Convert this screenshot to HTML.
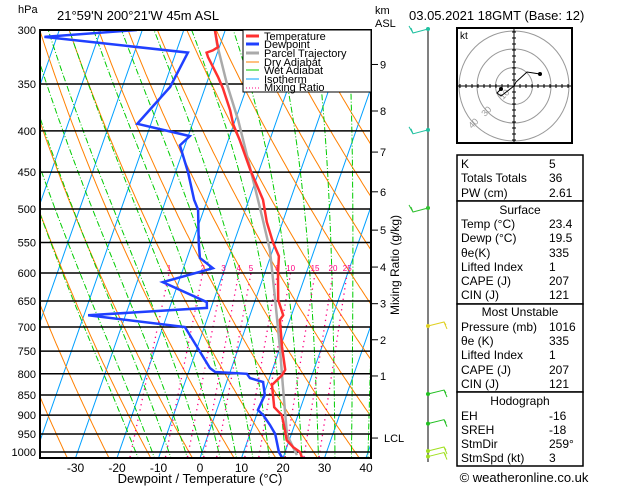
<!DOCTYPE html>
<html><head><meta charset="utf-8"><style>
body{margin:0;background:#fff;width:629px;height:486px;overflow:hidden}
svg{font-family:"Liberation Sans",sans-serif}
</style></head><body>
<svg id="c" width="629" height="486" viewBox="0 0 629 486">
<defs><clipPath id="pc"><rect x="40" y="30" width="331" height="428"/></clipPath></defs>
<g id="bg" clip-path="url(#pc)"></g>
<g id="series" clip-path="url(#pc)"></g>
<g id="axes"></g>
<rect x="40" y="30" width="331" height="428" fill="none" stroke="#000" stroke-width="2"/>
<text x="18" y="13" font-size="11">hPa</text>
<text x="57" y="20" font-size="13">21°59'N  200°21'W  45m  ASL</text>
<text x="375" y="14" font-size="11">km</text>
<text x="375" y="27" font-size="11">ASL</text>
<text x="409" y="20" font-size="13">03.05.2021  18GMT  (Base: 12)</text>
<text x="200" y="483" font-size="13" text-anchor="middle">Dewpoint / Temperature (°C)</text>
<text transform="translate(399,265) rotate(-90)" font-size="12" text-anchor="middle">Mixing Ratio (g/kg)</text>
<g>
<rect x="243" y="30" width="128" height="62" fill="#fff" stroke="#000" stroke-width="1"/>
<line x1="246" y1="36" x2="259" y2="36" stroke="#ff3030" stroke-width="3"/><text x="264" y="40" font-size="11">Temperature</text>
<line x1="246" y1="44" x2="259" y2="44" stroke="#2040ff" stroke-width="3"/><text x="264" y="48" font-size="11">Dewpoint</text>
<line x1="246" y1="53" x2="259" y2="53" stroke="#aaa" stroke-width="3"/><text x="264" y="57" font-size="11">Parcel Trajectory</text>
<line x1="246" y1="62" x2="259" y2="62" stroke="#ff8000" stroke-width="1"/><text x="264" y="66" font-size="11">Dry Adiabat</text>
<line x1="246" y1="70" x2="259" y2="70" stroke="#00cc00" stroke-width="1"/><text x="264" y="74" font-size="11">Wet Adiabat</text>
<line x1="246" y1="79" x2="259" y2="79" stroke="#00a0ff" stroke-width="1"/><text x="264" y="83" font-size="11">Isotherm</text>
<line x1="246" y1="88" x2="259" y2="88" stroke="#ff0080" stroke-width="1" stroke-dasharray="1,2"/><text x="264" y="91" font-size="11">Mixing Ratio</text>
</g>
<g id="winds"></g>
<g id="hodo"></g>
<g id="table"></g>
<text x="524" y="482" font-size="13" text-anchor="middle">© weatheronline.co.uk</text>
</svg>
<script>
const tempP=[1017,1000,986,967,939,900,880,826,803,791,741,686,677,648,600,572,550,519,487,447,411,393,377,354,343,324,320,318,315,311,300];
const tempT=[24.6,23.6,21.5,19.4,18.1,16.1,13.6,11.2,12.8,13.1,10.4,7.6,8.0,5.5,3.2,2.0,-0.6,-3.8,-6.6,-12.2,-17.2,-20.1,-22.1,-25.7,-27.8,-31.9,-32.6,-31.3,-30.3,-30.9,-32.5];
const dewP=[1017,1000,950,926,900,887,850,819,810,800,796,787,700,677,663,652,616,592,575,550,501,487,450,417,406,392,353,320,306,300];
const dewT=[19.8,18.5,16.1,14.1,11.6,9.9,10.3,8.8,5.3,4.2,-3.6,-5.2,-14.7,-39,-11,-11.5,-23.8,-12.9,-16.9,-18.5,-21.4,-23.2,-27,-31.2,-29.6,-43.3,-38.5,-37.1,-73,-51.3];
const parcelP=[1009,952,887,826,748,648,562,516,487,388,351,313,300];
const parcelT=[23.1,19.0,16.4,13.8,10.2,4.8,-0.7,-4.9,-7.8,-19.3,-24.9,-30.7,-32.5];
const pressureTicks=[300,350,400,450,500,550,600,650,700,750,800,850,900,950,1000];
const tempTicks=[-30,-20,-10,0,10,20,30,40];
const kmTicks=["9","8","7","6","5","4","3","2","1","LCL"];
const kmPressures=[331,378,425,476,531,590,655,726,805,961];
const mixRatios=[1,2,3,4,5,8,10,15,20,25];
const windP=[300,400,500,700,850,925,1000,1016];
const windColors=["#20c0a0","#20c0a0","#30c030","#e0d020","#20c020","#20c020","#a0e020","#a0e020"];

const NS="http://www.w3.org/2000/svg";
function yP(p){return 30+350.5*Math.log(p/300);}
function xT(T,p){return 200+4.15*T+0.35*(458-yP(p));}
function mk(tag,attrs,parent){const e=document.createElementNS(NS,tag);for(const k in attrs)e.setAttribute(k,attrs[k]);parent.appendChild(e);return e;}
const bg=document.getElementById('bg'),series=document.getElementById('series'),axes=document.getElementById('axes');
function pathFrom(ps,ts){return ps.map((p,i)=>(i?'L':'M')+xT(ts[i],p).toFixed(1)+','+yP(p).toFixed(1)).join('');}
const plevels=[];for(let p=1030;p>=290;p-=5)plevels.push(p);
// isotherms
for(let T=-130;T<=50;T+=10){const l=mk('line',{x1:xT(T,1030),y1:yP(1030),x2:xT(T,290),y2:yP(290),stroke:'#00a0ff','stroke-width':1},bg);

}
// dry adiabats
for(let th=230;th<=500;th+=10){const ts=plevels.map(p=>th*Math.pow(p/1000,0.286)-273.15);const e=mk('path',{d:pathFrom(plevels,ts),fill:'none',stroke:'#ff8000','stroke-width':1},bg);

}
// moist adiabats
function es(T){return 6.112*Math.exp(17.67*T/(T+243.5));}
for(let t0=-16;t0<=40;t0+=4){let T=t0+273.15;const ps=[],ts=[];
 for(let p=1030;p>=290;p-=1){ps.push(p);ts.push(T-273.15);const e=es(T-273.15),rs=0.622*e/(p-e);
 const dTdp=(287*T+2.5e6*rs)/(p*(1004+2.5e6*2.5e6*rs*0.622/(287*T*T)));T-=dTdp*1;}
 // shift to pass through t0 at 1000
 const idx=30;const off=t0-ts[idx];for(let i=0;i<ts.length;i++)ts[i]+=off;
 const e=mk('path',{d:pathFrom(ps,ts),fill:'none',stroke:'#00cc00','stroke-width':1,'stroke-dasharray':'6,2,1,2'},bg);
 
 }
// mixing ratio
mixRatios.forEach(w=>{const ps=[1030,600];const ts=ps.map(p=>{const e=w*p/(622+w);const l=Math.log(e/6.112);return 243.5*l/(17.67-l);});
 const e=mk('path',{d:pathFrom(ps,ts),fill:'none',stroke:'#ff0080','stroke-width':1.3,'stroke-dasharray':'1.3,4'},bg);
 
 
 const t=mk('text',{x:xT(ts[1],600),y:yP(600)-2,'font-size':8,fill:'#ff0080','text-anchor':'middle'},bg);t.textContent=w;
 
 });
// pressure lines
pressureTicks.forEach(p=>{const l=mk('line',{x1:40,x2:371,y1:yP(p),y2:yP(p),stroke:'#000','stroke-width':1.5},series);
 
 
 const t=mk('text',{x:36,y:yP(p)+4,'font-size':11,'text-anchor':'end'},axes);t.textContent=p;
 
 });
tempTicks.forEach(T=>{const t=mk('text',{x:200+4.15*T,y:472,'font-size':12,'text-anchor':'middle'},axes);t.textContent=T;
 
 });
kmTicks.forEach((k,i)=>{const y=yP(kmPressures[i]);mk('line',{x1:371,x2:378,y1:y,y2:y,stroke:'#000'},axes);
 const t=mk('text',{x:k==='LCL'?384:380,y:y+4,'font-size':11},axes);t.textContent=k;
 
 });
// series
let e=mk('path',{d:pathFrom(parcelP,parcelT),fill:'none',stroke:'#aaa','stroke-width':2.5},series);


e=mk('path',{d:pathFrom(tempP,tempT),fill:'none',stroke:'#ff3030','stroke-width':2.5},series);


e=mk('path',{d:pathFrom(dewP,dewT),fill:'none',stroke:'#2040ff','stroke-width':2.5},series);


// winds
const wg=document.getElementById('winds');
mk('line',{x1:428,x2:428,y1:29,y2:462,stroke:'#000','stroke-width':1},wg);
windP.forEach((p,i)=>{const y=Math.min(yP(p),458)-1;const c=windColors[i];
 const g=mk('g',{},wg);
 
 
 mk('circle',{cx:428,cy:y,r:2,fill:c},g);
 if(i<3){mk('polyline',{points:`428,${y} 413,${y+4} 409,${y-3} 413,${y+4} 411,${y-1}`,fill:'none',stroke:c,'stroke-width':1},g);}
 else{mk('polyline',{points:`428,${y} 444,${y-4} 447,${y+3} 444,${y-4} 446,${y-1}`,fill:'none',stroke:c,'stroke-width':1},g);}
});
// hodograph
const hg=document.getElementById('hodo');
mk('rect',{x:457,y:28,width:115,height:115,fill:'#fff',stroke:'#000','stroke-width':2},hg);
const cx=514,cy=86;
[18.5,37,55].forEach(r=>mk('circle',{cx,cy,r,fill:'none',stroke:'#999'},hg));
mk('line',{x1:458,x2:571,y1:cy,y2:cy,stroke:'#000'},hg);mk('line',{x1:cx,x2:cx,y1:29,y2:142,stroke:'#000'},hg);
for(let k=-9;k<=9;k++){if(!k)continue;mk('line',{x1:cx+k*6,x2:cx+k*6,y1:cy-2,y2:cy+2,stroke:'#000'},hg);mk('line',{x1:cx-2,x2:cx+2,y1:cy+k*6,y2:cy+k*6,stroke:'#000'},hg);}
let t=mk('text',{x:460,y:39,'font-size':10},hg);t.textContent='kt';
[['10',503,100],['30',485,117],['40',472,129]].forEach(a=>{const tt=mk('text',{x:a[1],y:a[2],'font-size':9,fill:'#999',transform:`rotate(-45 ${a[1]} ${a[2]})`},hg);tt.textContent=a[0];});
mk('polyline',{points:'514,86 516,82 527,72 540,74',fill:'none',stroke:'#000'},hg);
mk('circle',{cx:540,cy:74,r:2,fill:'#000'},hg);
mk('polyline',{points:'514,86 501,96 497,93 501,89',fill:'none',stroke:'#000'},hg);
mk('circle',{cx:501,cy:89,r:2,fill:'#000'},hg);
// table
const tg=document.getElementById('table');
[[155,201],[201,304],[304,392],[392,466]].forEach(b=>mk('rect',{x:457,y:b[0],width:126,height:b[1]-b[0],fill:'#fff',stroke:'#000','stroke-width':1.5},tg));
const rows=[[168,'K','5'],[182,'Totals Totals','36'],[197,'PW (cm)','2.61'],[214,'Surface',null],[228,'Temp (°C)','23.4'],[242,'Dewp (°C)','19.5'],[257,'θe(K)','335'],[271,'Lifted Index','1'],[285,'CAPE (J)','207'],[299,'CIN (J)','121'],[316,'Most Unstable',null],[331,'Pressure (mb)','1016'],[345,'θe (K)','335'],[359,'Lifted Index','1'],[374,'CAPE (J)','207'],[388,'CIN (J)','121'],[405,'Hodograph',null],[420,'EH','-16'],[434,'SREH','-18'],[448,'StmDir','259°'],[462,'StmSpd (kt)','3']];
rows.forEach(r=>{if(r[2]===null){const a=mk('text',{x:520,y:r[0],'font-size':12,'text-anchor':'middle'},tg);a.textContent=r[1];}
 else{const a=mk('text',{x:461,y:r[0],'font-size':12},tg);a.textContent=r[1];const b=mk('text',{x:549,y:r[0],'font-size':12},tg);b.textContent=r[2];}});
</script>
</body></html>
